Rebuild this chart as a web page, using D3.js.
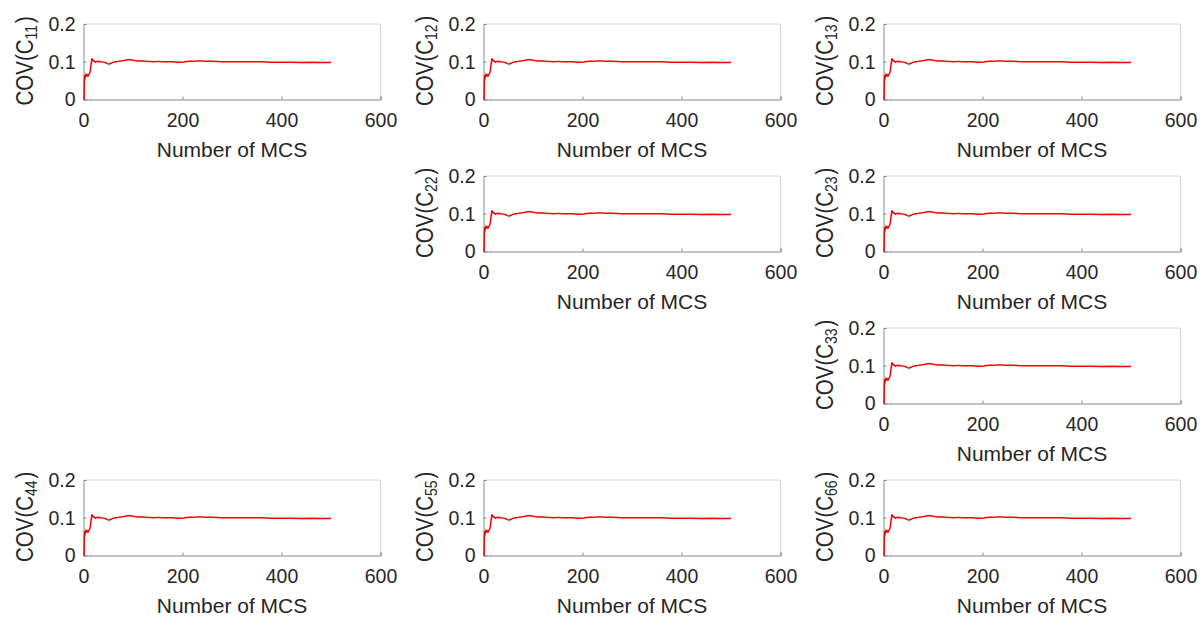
<!DOCTYPE html>
<html>
<head>
<meta charset="utf-8">
<script src="https://cdn.jsdelivr.net/npm/d3@7"></script>
<style>
  html, body { margin: 0; padding: 0; background: #fff; }
  svg { display: block; font-family: "Liberation Sans", Arial, Helvetica, sans-serif; }
</style>
</head>
<body>
<svg id="chart" width="1203" height="617"></svg>
<script>
// Convergence of the coefficient of variation of each stiffness term
// against the number of Monte Carlo simulations.
const mcs = [1,2,3,4,5,6,7,8,9,10,11,12,13,14,15,16,17,18,19,20,
  22,24,26,28,30,33,36,40,44,48,52,56,60,65,70,75,80,85,90,95,100,
  110,120,130,140,150,160,170,180,190,200,205,210,220,230,240,250,260,
  280,300,320,340,360,380,400,420,440,460,480,500];
const cov = [0,0.062,0.055,0.066,0.064,0.067,0.062,0.064,0.061,0.066,
  0.067,0.069,0.072,0.078,0.09,0.1,0.108,0.106,0.103,0.104,
  0.1,0.099,0.101,0.1,0.1,0.101,0.1,0.099,0.098,0.095,0.094,0.096,0.099,
  0.1,0.101,0.102,0.103,0.104,0.106,0.105,0.104,
  0.102,0.102,0.101,0.1,0.101,0.1,0.1,0.1,0.099,0.099,
  0.1,0.101,0.101,0.102,0.102,0.101,0.101,
  0.1,0.1,0.1,0.1,0.1,0.099,0.099,0.099,0.098,0.099,0.098,0.098];

// Panels of the upper-triangular stiffness matrix plus the shear terms
const panelIds  = ["11","12","13","22","23","33","44","55","66"];
const panelCols = [0,1,2,1,2,2,0,1,2];
const panelRows = [0,0,0,1,1,2,3,3,3];

const xTicks = [0,200,400,600];
const yTicks = [0,0.1,0.2];
const xLabel = "Number of MCS";

const colLeft = [83.5, 483.5, 883.5];
const rowTop  = [24, 176, 328, 480];
const plotW = 297, plotH = 75.5;
const textColor = "#262626";

const svg = d3.select("#chart");
const series = mcs.map((m, i) => [m, cov[i]]);

panelIds.forEach((id, k) => {
  const left = colLeft[panelCols[k]];
  const top = rowTop[panelRows[k]];
  const g = svg.append("g").attr("transform", `translate(${left},${top})`);

  const x = d3.scaleLinear().domain([0, 600]).range([0, plotW]);
  const y = d3.scaleLinear().domain([0, 0.2]).range([plotH, 0]);

  // light box on top and right
  g.append("path")
    .attr("d", `M0,0H${plotW}V${plotH}`)
    .attr("fill", "none").attr("stroke", "#d4d4d4").attr("stroke-width", 1);

  // bottom axis
  const xAxis = g.append("g").attr("transform", `translate(0,${plotH})`)
    .call(d3.axisBottom(x).tickValues(xTicks).tickSize(-3).tickPadding(9)
      .tickFormat(d3.format("d")));
  // left axis
  const yAxis = g.append("g")
    .call(d3.axisLeft(y).tickValues(yTicks).tickSize(-3).tickPadding(8)
      .tickFormat(d => d === 0 ? "0" : d3.format(".1f")(d)));

  [xAxis, yAxis].forEach(a => {
    a.select(".domain").attr("stroke", "#8a8a8a").attr("stroke-width", 1);
    a.selectAll(".tick line").attr("stroke", "#8a8a8a");
    a.selectAll(".tick text")
      .attr("fill", textColor)
      .style("font-size", "19.5px")
      .style("font-family", "'Liberation Sans', Arial, sans-serif");
  });
  xAxis.selectAll(".tick text").attr("dy", "0.95em");

  // x label
  g.append("text")
    .attr("x", plotW / 2)
    .attr("y", plotH + 57)
    .attr("text-anchor", "middle")
    .attr("fill", textColor)
    .style("font-size", "21px")
    .text(xLabel);

  // y label with subscript
  const yl = g.append("text")
    .attr("transform", `translate(-51,${plotH / 2 - 1}) rotate(-90) scale(1,1.15)`)
    .attr("text-anchor", "middle")
    .attr("fill", textColor)
    .style("font-size", "20.5px");
  yl.append("tspan").text("COV(C");
  yl.append("tspan").attr("dy", 4).style("font-size", "14px").text(id);
  yl.append("tspan").attr("dy", -4).attr("dx", 2).text(")");

  // convergence curve
  g.append("path")
    .datum(series)
    .attr("fill", "none")
    .attr("stroke", "#ff0000")
    .attr("stroke-width", 1.5)
    .attr("stroke-linejoin", "round")
    .attr("d", d3.line().x(d => x(d[0])).y(d => y(d[1])));
});
</script>
</body>
</html>
